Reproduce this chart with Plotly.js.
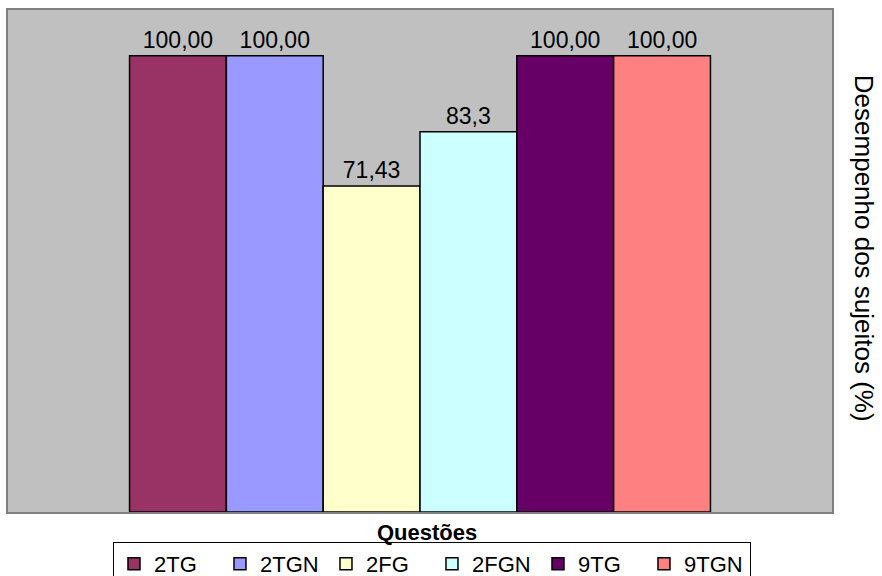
<!DOCTYPE html>
<html><head><meta charset="utf-8">
<script src="https://cdn.plot.ly/plotly-3.0.1.min.js"></script>
<style>html,body{margin:0;padding:0;background:#fff;overflow:hidden;}</style>
</head><body>
<div id="chart" style="width:882px;height:600px;"></div>
<script>
const categories = ["Questões"];
const seriesNames = ["2TG", "2TGN", "2FG", "2FGN", "9TG", "9TGN"];
const seriesValues = [100, 100, 71.43, 83.3, 100, 100];
const valueLabels = ["100,00", "100,00", "71,43", "83,3", "100,00", "100,00"];
const seriesColors = ["#993366", "#9999FF", "#FFFFCC", "#CCFFFF", "#660066", "#FF8080"];

const traces = seriesNames.map((name, i) => ({
  type: "bar",
  name: name,
  x: categories,
  y: [seriesValues[i]],
  text: [valueLabels[i]],
  textposition: "outside",
  textfont: {family: "Liberation Sans, Arial, sans-serif", size: 23, color: "#000"},
  cliponaxis: false,
  marker: {color: seriesColors[i], line: {color: "#000", width: 1.5}},
  hoverinfo: "none"
}));

const layout = {
  width: 882, height: 600,
  margin: {l: 8, r: 50, t: 10, b: 88},
  paper_bgcolor: "#ffffff",
  plot_bgcolor: "#c0c0c0",
  barmode: "group",
  bargap: 0.295,
  bargroupgap: 0,
  showlegend: true,
  font: {family: "Liberation Sans, Arial, sans-serif", color: "#000"},
  xaxis: {
    showticklabels: false, ticks: "", showgrid: false, zeroline: false,
    showline: true, mirror: true, linecolor: "#808080", linewidth: 2
  },
  yaxis: {
    range: [0, 110], showticklabels: false, ticks: "", showgrid: false, zeroline: false,
    showline: true, mirror: true, linecolor: "#808080", linewidth: 2
  },
  legend: {
    orientation: "h", x: 0.1274, xanchor: "left", y: -0.0598, yanchor: "top",
    bordercolor: "#000", borderwidth: 1, bgcolor: "#fff",
    font: {size: 22, family: "Liberation Sans, Arial, sans-serif"},
    entrywidth: 61, itemwidth: 30, traceorder: "normal"
  },
  annotations: [
    {text: "<b>Questões</b>", xref: "paper", yref: "paper", x: 0.509, y: -0.04, yanchor: "middle",
     showarrow: false, font: {size: 22}},
    {text: "Desempenho dos sujeitos (%)", xref: "paper", yref: "paper", x: 1.039, y: 0.526,
     xanchor: "center", yanchor: "middle", textangle: 90, showarrow: false, font: {size: 26}}
  ]
};

Plotly.newPlot("chart", traces, layout, {displayModeBar: false, staticPlot: true});
</script>
</body></html>
